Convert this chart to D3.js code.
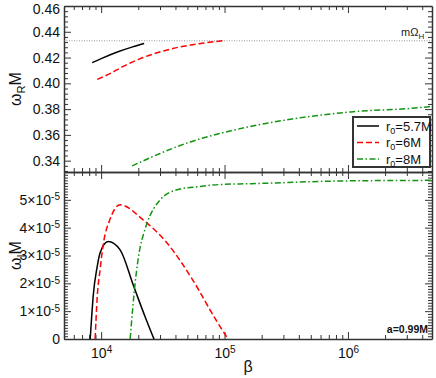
<!DOCTYPE html>
<html>
<head>
<meta charset="utf-8">
<script src="https://cdn.jsdelivr.net/npm/d3@7"></script>
<style>
  body { margin: 0; background: #fff; }
  svg { font-family: "Liberation Sans", Arial, sans-serif; }
  .axis path, .axis line { stroke: #333; }
  .axis text { fill: #111; font-size: 14px; }
</style>
</head>
<body>
<div id="chart"></div>
<script>
// ---- data ----
var series = ["r0=5.7M", "r0=6M", "r0=8M"];

// real part (upper panel)
var reBetaBlack = [8460, 10000, 13700, 18000, 22300];
var reBlack     = [0.4161, 0.4192, 0.4245, 0.4283, 0.4309];
var reBetaRed   = [9300, 11800, 15000, 20300, 28000, 40000, 60000, 100000];
var reRed       = [0.4031, 0.4075, 0.4130, 0.4188, 0.4235, 0.4275, 0.4305, 0.4332];
var reBetaGreen = [17820, 30060, 52550, 91960, 186700, 571000, 1057000, 4610000, 4800000];
var reGreen     = [0.3359, 0.3456, 0.3545, 0.3611, 0.3677, 0.3751, 0.3778, 0.3821, 0.3824];
var mOmegaH = 0.433;

// imaginary part (lower panel)
var imBetaBlack = [8150, 8380, 8610, 9290, 9810, 11400, 14250, 18200, 22700, 26800];
var imBlack     = [0, 0.8e-5, 1.52e-5, 2.6e-5, 3.1e-5, 3.5e-5, 3.2e-5, 1.94e-5, 0.8e-5, 0];
var imBetaRed   = [8940, 9290, 9810, 10400, 11800, 14250, 21900, 34200, 55600, 86900, 106700];
var imRed       = [0, 1.5e-5, 2.5e-5, 3.4e-5, 4.3e-5, 4.82e-5, 4.28e-5, 3.45e-5, 2.1e-5, 0.62e-5, 0];
var imBetaGreen = [17180, 18850, 20700, 22000, 23570, 30060, 41200, 63400, 92000, 164000, 946000, 4800000];
var imGreen     = [0, 2.0e-5, 3.3e-5, 3.75e-5, 4.17e-5, 5.0e-5, 5.36e-5, 5.48e-5, 5.55e-5, 5.58e-5, 5.68e-5, 5.7e-5];

var xMajor = [1e4, 1e5, 1e6];
var reTicks = [0.34, 0.36, 0.38, 0.40, 0.42, 0.44, 0.46];
var imTicks = [0, 1e-5, 2e-5, 3e-5, 4e-5, 5e-5];

// ---- layout ----
var width = 436, height = 378;
var left = 64, right = 432, top1 = 6, mid = 172, bottom = 339;

var svg = d3.select("#chart").append("svg")
    .attr("width", width)
    .attr("height", height);

var x = d3.scaleLog().domain([5e3, 4.8e6]).range([left, right]);
var yRe = d3.scaleLinear().domain([0.3312, 0.46]).range([mid, top1]);
var yIm = d3.scaleLinear().domain([0, 6e-5]).range([bottom, mid]);

var colors = ["#000000", "#ff0000", "#129412"];
var dashes = [null, "6,3", "6,2.5,1.5,2.5"];

// minor ticks
var xMinor = [];
[1e3, 1e4, 1e5, 1e6].forEach(function(d) {
  for (var k = 2; k <= 9; k++) {
    var v = d * k;
    if (v > 5e3 && v < 4.8e6) xMinor.push(v);
  }
});
var reMinor = d3.range(0.332, 0.4601, 0.004).filter(function(v) {
  return !reTicks.some(function(t) { return Math.abs(t - v) < 1e-6; });
});
var imMinor = d3.range(0, 6.01e-5, 1e-6).filter(function(v) {
  return Math.round(v / 1e-6) % 10 !== 0;
});

function drawFrame(y, majors, minors, isBottom, fmt) {
  var yr = y.range();
  // minor ticks first
  [[d3.axisBottom, yr[0], -4], [d3.axisTop, yr[1], -4]].forEach(function(a) {
    svg.append("g").attr("class", "axis")
      .attr("transform", "translate(0," + a[1] + ")")
      .call(a[0](x).tickValues(xMinor).tickSize(a[2]).tickFormat(""))
      .select(".domain").remove();
  });
  [[d3.axisLeft, left], [d3.axisRight, right]].forEach(function(a) {
    svg.append("g").attr("class", "axis")
      .attr("transform", "translate(" + a[1] + ",0)")
      .call(a[0](y).tickValues(minors).tickSize(-4).tickFormat(""))
      .select(".domain").remove();
  });
  // major ticks
  var gb = svg.append("g").attr("class", "axis xb")
    .attr("transform", "translate(0," + yr[0] + ")")
    .call(d3.axisBottom(x).tickValues(xMajor).tickSizeInner(-7).tickSizeOuter(0).tickPadding(9)
      .tickFormat(isBottom ? function() { return "10"; } : ""));
  svg.append("g").attr("class", "axis")
    .attr("transform", "translate(0," + yr[1] + ")")
    .call(d3.axisTop(x).tickValues(xMajor).tickSizeInner(-7).tickSizeOuter(0).tickFormat(""));
  var gl = svg.append("g").attr("class", "axis yl")
    .attr("transform", "translate(" + left + ",0)")
    .call(d3.axisLeft(y).tickValues(majors).tickSizeInner(-7).tickSizeOuter(0).tickPadding(4).tickFormat(fmt));
  svg.append("g").attr("class", "axis")
    .attr("transform", "translate(" + right + ",0)")
    .call(d3.axisRight(y).tickValues(majors).tickSizeInner(-7).tickSizeOuter(0).tickFormat(""));
  svg.selectAll(".axis .domain").attr("stroke-width", 1.5);
  if (isBottom) {
    gb.selectAll(".tick text").each(function(d) {
      d3.select(this).append("tspan")
        .attr("dy", "-0.45em")
        .attr("font-size", "10px")
        .text(Math.round(Math.log10(d)));
    });
  }
  return gl;
}

var glRe = drawFrame(yRe, reTicks, reMinor, false, d3.format(".2f"));
// keep the top label inside the picture
glRe.selectAll(".tick text").filter(function(d) { return d === 0.46; })
  .attr("y", 3);

var glIm = drawFrame(yIm, imTicks, imMinor, true, function(d) {
  return d === 0 ? "0" : Math.round(d / 1e-5) + "\u00d710";
});
glIm.selectAll(".tick text").each(function(d) {
  if (d === 0) return;
  d3.select(this).append("tspan")
    .attr("dy", "-0.45em")
    .attr("font-size", "10px")
    .text("-5");
});

// horizontal mΩH line
svg.append("line")
  .attr("x1", left).attr("x2", right)
  .attr("y1", yRe(mOmegaH)).attr("y2", yRe(mOmegaH))
  .attr("stroke", "#777").attr("stroke-width", 0.8)
  .attr("stroke-dasharray", "1,1.5");
var mt = svg.append("text")
  .attr("x", 401).attr("y", yRe(mOmegaH) - 5)
  .attr("font-size", "11px").attr("fill", "#222")
  .text("m\u03a9");
mt.append("tspan").attr("dy", "3").attr("font-size", "8px").text("H");

// curves
function drawLine(y, xs, ys, i) {
  var pts = xs.map(function(b, k) { return [x(b), y(ys[k])]; });
  svg.append("path")
    .datum(pts)
    .attr("fill", "none")
    .attr("stroke", colors[i])
    .attr("stroke-width", 1.5)
    .attr("stroke-dasharray", dashes[i])
    .attr("d", d3.line().curve(d3.curveMonotoneX));
}
drawLine(yRe, reBetaBlack, reBlack, 0);
drawLine(yRe, reBetaRed, reRed, 1);
drawLine(yRe, reBetaGreen, reGreen, 2);
drawLine(yIm, imBetaBlack, imBlack, 0);
drawLine(yIm, imBetaRed, imRed, 1);
drawLine(yIm, imBetaGreen, imGreen, 2);

// legend
var lg = svg.append("g").attr("transform", "translate(353,117)");
lg.append("rect").attr("width", 77).attr("height", 50)
  .attr("fill", "#fff").attr("stroke", "#333").attr("stroke-width", 2);
series.forEach(function(s, i) {
  var yy = 9 + i * 16.5;
  lg.append("line").attr("x1", 4).attr("x2", 26).attr("y1", yy).attr("y2", yy)
    .attr("stroke", colors[i]).attr("stroke-width", 1.5)
    .attr("stroke-dasharray", dashes[i]);
  var t = lg.append("text").attr("x", 33).attr("y", yy + 4.5)
    .attr("font-size", "13px").attr("fill", "#111").text("r");
  t.append("tspan").attr("dy", 3).attr("font-size", "9px").text("0");
  t.append("tspan").attr("dy", -3).text(s.slice(2));
});

// annotation
svg.append("text")
  .attr("x", 428).attr("y", 333)
  .attr("text-anchor", "end")
  .attr("font-size", "10.5px").attr("font-weight", "bold").attr("fill", "#111")
  .text("a=0.99M");

// axis titles
var t1 = svg.append("text")
  .attr("transform", "translate(21," + ((top1 + mid) / 2) + ") rotate(-90)")
  .attr("text-anchor", "middle").attr("font-size", "16px").attr("fill", "#111")
  .text("\u03c9");
t1.append("tspan").attr("dy", 4).attr("font-size", "11px").text("R");
t1.append("tspan").attr("dy", -4).text("M");

var t2 = svg.append("text")
  .attr("transform", "translate(21," + ((mid + bottom) / 2) + ") rotate(-90)")
  .attr("text-anchor", "middle").attr("font-size", "16px").attr("fill", "#111")
  .text("\u03c9");
t2.append("tspan").attr("dy", 4).attr("font-size", "11px").text("I");
t2.append("tspan").attr("dy", -4).text("M");

svg.append("text")
  .attr("x", 248).attr("y", 372)
  .attr("text-anchor", "middle").attr("font-size", "16px").attr("fill", "#111")
  .text("\u03b2");
</script>
</body>
</html>
